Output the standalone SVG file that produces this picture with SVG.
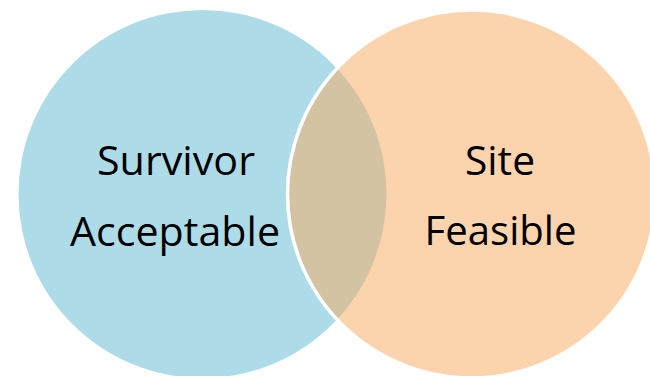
<svg xmlns="http://www.w3.org/2000/svg" width="650" height="376" viewBox="0 0 650 376">
<style>
.lbl{font-family:"Open Sans","Liberation Sans",sans-serif;font-size:41px;fill:#000;text-anchor:middle}
</style>
<defs>
<clipPath id="clipL"><circle cx="202.5" cy="194" r="184"/></clipPath>
</defs>
<rect width="650" height="376" fill="#fff"/>
<g id="survivor-acceptable">
<circle cx="202.5" cy="194" r="184" fill="#ADDCE8"/>
</g>
<g id="site-feasible">
<circle cx="471.5" cy="194" r="184" fill="#FBD3AD"/>
</g>
<g id="overlap">
<circle cx="471.5" cy="194" r="184" fill="#D3C3A3" clip-path="url(#clipL)"/>
<circle cx="471.5" cy="194" r="184" fill="none" stroke="#fff" stroke-width="3.5"/>
</g>
<g id="labels">
<text class="lbl" x="176" y="174.5" textLength="158" lengthAdjust="spacingAndGlyphs">Survivor</text>
<text class="lbl" x="175" y="246" textLength="210" lengthAdjust="spacingAndGlyphs">Acceptable</text>
<text class="lbl" x="500" y="175" textLength="70" lengthAdjust="spacingAndGlyphs">Site</text>
<text class="lbl" x="500.5" y="245" textLength="152" lengthAdjust="spacingAndGlyphs">Feasible</text>
</g>
</svg>
